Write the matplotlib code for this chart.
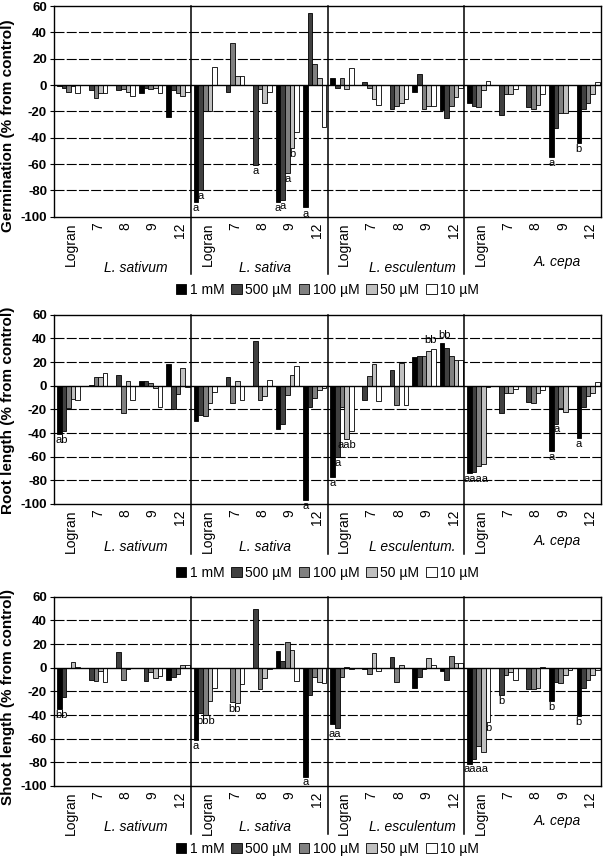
import matplotlib.pyplot as plt
from matplotlib.patches import Patch
from matplotlib.transforms import blended_transform_factory, ScaledTranslation

plt.rcParams['font.family'] = ['Liberation Sans', 'DejaVu Sans']

# categories: 4 species x 5 compounds
compounds = ['Logran', '7', '8', '9', '12']
species_1 = ['L. sativum', 'L. sativa', 'L. esculentum', 'A. cepa']
species_2 = ['L. sativum', 'L. sativa', 'L esculentum.', 'A. cepa']
concs = ['1 mM', '500 µM', '100 µM', '50 µM', '10 µM']
colors = ['#000000', '#404040', '#808080', '#c0c0c0', '#ffffff']

# Germination (% from control)
germ_1mM = [-1, 0, 0, -6, -24, -89, 0, 0, -89, -93, 5, 0, 0, -5, -19, -14, 0, 0, -55, -44]
germ_500uM = [-2, -4, -4, -2, -4, -80, -5, -61, -87, 55, -2, 2, -18, 8, -25, -16, -23, -17, -33, -18]
germ_100uM = [-5, -10, -3, -3, -6, -20, 32, -3, -67, 16, 5, -2, -16, -18, -16, -17, -7, -18, -21, -14]
germ_50uM = [-1, -6, -5, -2, -8, -20, 7, -14, -48, 5, -3, -11, -14, -16, -9, -4, -7, -15, -21, -7]
germ_10uM = [-6, -6, -8, -6, -5, 14, 7, -5, -36, -32, 13, -15, -11, -16, -2, 3, -3, -7, 0, 2]

# Root length (% from control)
root_1mM = [-41, 0, 0, 4, 18, -30, 0, 0, -37, -97, -77, 0, 0, 24, 36, -74, 0, 0, -55, -44]
root_500uM = [-38, 1, 9, 4, -20, -25, 7, 38, -32, -18, -60, -12, 13, 25, 32, -73, -23, -14, -32, -18]
root_100uM = [-19, 7, -23, 2, -7, -26, -15, -12, -8, -10, -18, 8, -16, 25, 25, -68, -6, -15, -19, -9]
root_50uM = [-11, 7, 4, -2, 15, -15, 4, -9, 9, -4, -45, 18, 19, 29, 22, -66, -6, -6, -22, -6]
root_10uM = [-12, 11, -12, -18, -1, -5, -12, 5, 17, -2, -38, -13, -16, 31, 22, -1, -3, -4, 0, 3]

# Shoot length (% from control)
shoot_1mM = [-35, 0, 0, 0, -10, -61, 0, 0, 14, -92, -48, 0, 0, -17, -3, -81, 0, 0, -28, -41]
shoot_500uM = [-25, -10, 13, -11, -8, -38, 0, 50, 6, -23, -51, -1, 9, -8, -10, -77, -23, -18, -12, -17]
shoot_100uM = [0, -11, -10, -4, -5, -40, -29, -18, 22, -8, -8, -5, -12, -1, 10, -66, -6, -18, -13, -10]
shoot_50uM = [5, -3, -1, -9, 2, -28, -30, -9, 15, -12, 1, 12, 2, 8, 4, -71, -4, -17, -6, -6]
shoot_10uM = [1, -12, 0, -7, 2, -17, -14, -1, -11, -13, -1, -3, 0, 2, 4, -46, -10, 1, -2, -2]

# significance letters: (category, first conc, last conc, text)
germ_letters = [(5, 0, 0, 'a'), (5, 1, 1, 'a'), (7, 1, 1, 'a'), (8, 0, 0, 'a'), (8, 1, 1, 'a'),
                (8, 2, 2, 'a'), (8, 3, 3, 'b'), (9, 0, 0, 'a'), (18, 0, 0, 'a'), (19, 0, 0, 'b')]
root_letters = [(0, 0, 1, 'ab'), (9, 0, 0, 'a'), (10, 0, 0, 'a'), (10, 1, 1, 'a'), (10, 2, 4, 'aab'),
                (13, 3, 4, 'bb'), (14, 0, 1, 'bb'), (15, 0, 3, 'aaaa'), (18, 0, 0, 'a'),
                (18, 1, 1, 'a'), (19, 0, 0, 'a')]
shoot_letters = [(0, 0, 1, 'bb'), (5, 0, 0, 'a'), (5, 1, 3, 'bbb'), (6, 2, 3, 'bb'), (9, 0, 0, 'a'),
                 (10, 0, 1, 'aa'), (15, 0, 3, 'aaaa'), (15, 4, 4, 'b'), (16, 1, 1, 'b'),
                 (18, 0, 0, 'b'), (19, 0, 0, 'b')]

panels = [
    ('Germination (% from control)', [germ_1mM, germ_500uM, germ_100uM, germ_50uM, germ_10uM],
     germ_letters, species_1, 6, 216.7, 126, 268, 290, 274),
    ('Root length (% from control)', [root_1mM, root_500uM, root_100uM, root_50uM, root_10uM],
     root_letters, species_2, 314.7, 504, 410, 547, 573, 554),
    ('Shoot length (% from control)', [shoot_1mM, shoot_500uM, shoot_100uM, shoot_50uM, shoot_10uM],
     shoot_letters, species_1, 596.7, 786, 697, 827, 849, 834),
]

W, H = 606, 861
LEFT, RIGHT = 54, 601
fig = plt.figure(figsize=(W / 100, H / 100), dpi=100)

bw = 0.17
off = [(j - 2) * bw + 0.03 for j in range(5)]
sp_shift = [0.5, 0.2, 0.6, 0.9]
sp_raise = [0, 0, 0, 6]
tick_shift = ScaledTranslation(3 / 100, 0, fig.dpi_scale_trans)

for title, series, letters, species, top, bottom, ylab_y, sp_y, leg_y, sep_end in panels:
    ax = fig.add_axes([LEFT / W, 1 - bottom / H, (RIGHT - LEFT) / W, (bottom - top) / H])
    ax.set_xlim(-0.5, 19.5)
    ax.set_ylim(-100, 60)
    for y in range(-80, 60, 20):
        if y == 0:
            continue
        ax.axhline(y, color='black', lw=0.8, ls=(0, (9, 2)), zorder=0)
    for j, vals in enumerate(series):
        ax.bar([i + off[j] for i in range(20)], vals, width=bw, color=colors[j],
               edgecolor='black', linewidth=0.6, zorder=2)
    ax.axhline(0, color='black', lw=1.0, zorder=3)

    # group separators, down through the label area
    h_px = bottom - top
    trans = blended_transform_factory(ax.transData, ax.transAxes)
    for xs in [4.5, 9.5, 14.5]:
        ax.plot([xs, xs], [1, -(sep_end - bottom) / h_px], color='black', lw=1.1,
                transform=trans, clip_on=False, zorder=4)

    # significance letters
    for cat, j0, j1, txt in letters:
        vals = [series[j][cat] for j in range(j0, j1 + 1)]
        xc = cat + (off[j0] + off[j1]) / 2
        if min(vals) < 0:
            ax.text(xc, min(vals) - 0.8, txt, ha='center', va='top', fontsize=8, zorder=5)
        else:
            ax.text(xc, max(vals) + 3, txt, ha='center', va='bottom', fontsize=8, zorder=5)

    ax.set_xticks(range(20))
    ax.set_xticklabels(compounds * 4, rotation=90, fontsize=10)
    ax.tick_params(axis='x', length=0, pad=4)
    for lbl in ax.get_xticklabels():
        lbl.set_transform(lbl.get_transform() + tick_shift)
    ax.set_yticks(range(-100, 61, 20))
    ax.set_yticklabels([str(v) for v in range(-100, 61, 20)], fontsize=9.5, fontweight='bold')
    ax.tick_params(axis='y', length=3, width=0.8, pad=2)
    for s in ax.spines.values():
        s.set_linewidth(1.0)

    for k, name in enumerate(species):
        ax.text(k * 5 + 2 + sp_shift[k], -(sp_y - sp_raise[k] - bottom) / h_px, name,
                transform=trans, ha='center', va='center', fontsize=10, style='italic')

    fig.text(8 / W, 1 - ylab_y / H, title, rotation=90, ha='center', va='center',
             fontsize=11, fontweight='bold')

    handles = [Patch(facecolor=c, edgecolor='black', linewidth=0.6) for c in colors]
    fig.legend(handles, concs, loc='center', bbox_to_anchor=((LEFT + RIGHT) / 2 / W, 1 - leg_y / H),
               ncol=5, frameon=False, fontsize=10, handlelength=0.75, handleheight=0.75,
               handletextpad=0.25, columnspacing=0.5, borderpad=0, borderaxespad=0)

fig.savefig('out.png', dpi=100)
